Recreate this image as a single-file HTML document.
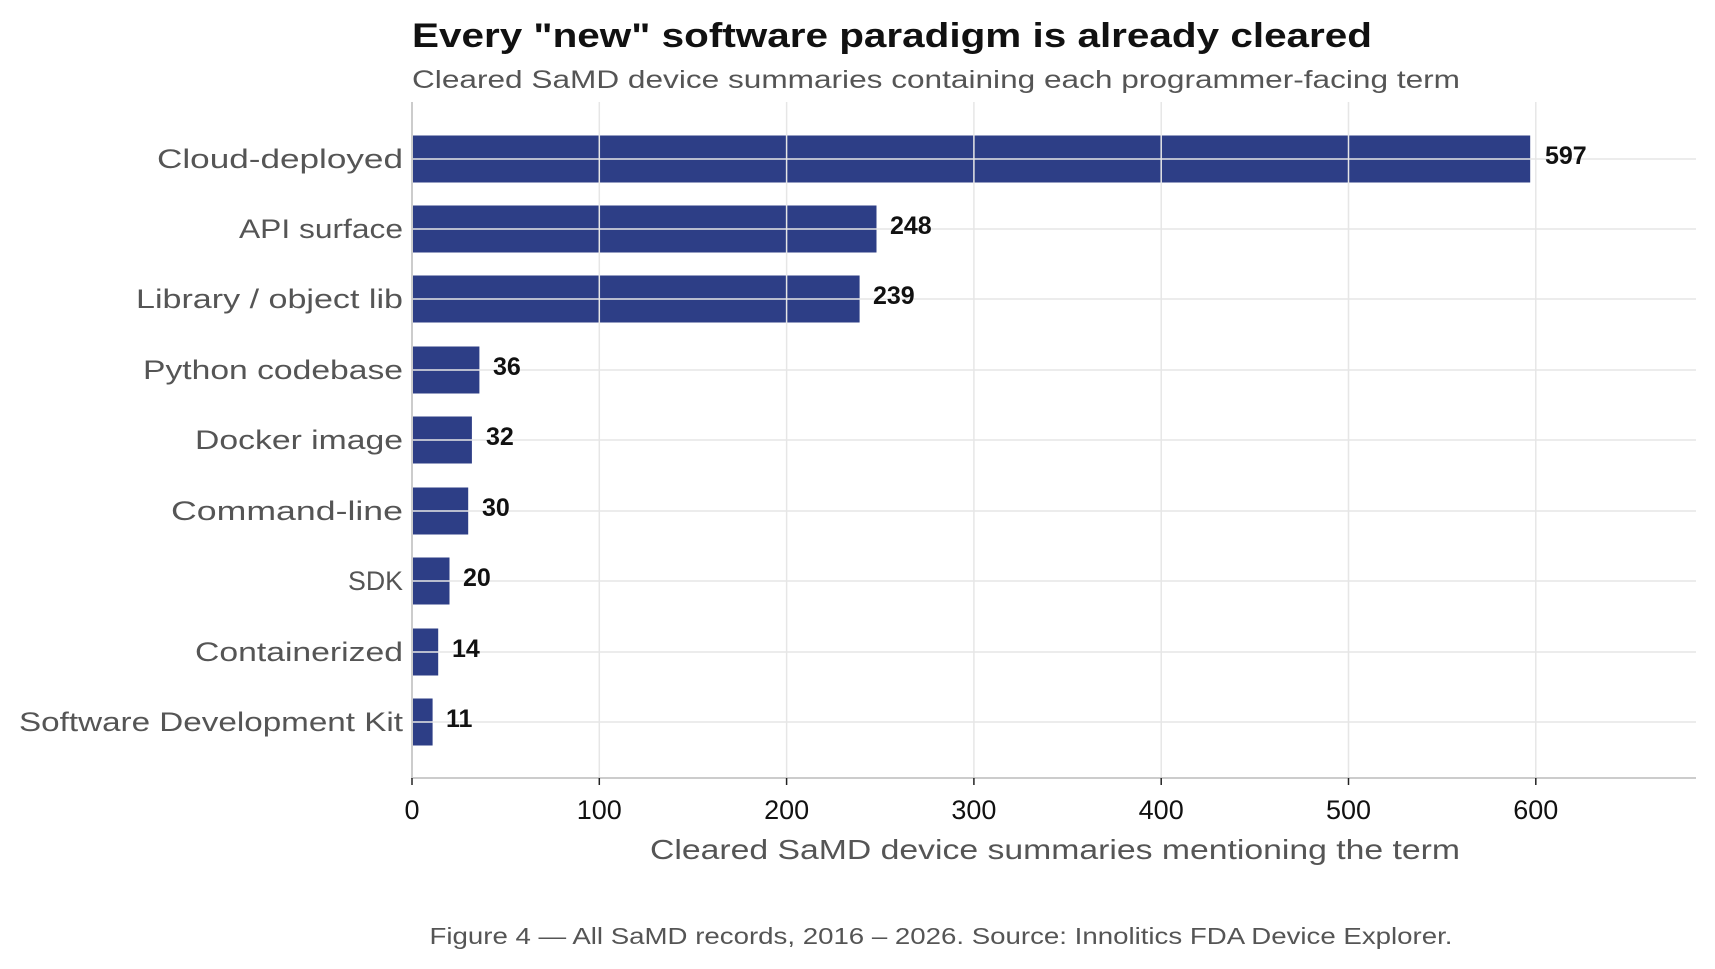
<!DOCTYPE html>
<html><head><meta charset="utf-8"><style>
html,body{margin:0;padding:0;background:#fff;}
svg{display:block;font-family:"Liberation Sans",sans-serif;}
</style></head><body>
<svg width="1715" height="969" viewBox="0 0 1715 969" xmlns="http://www.w3.org/2000/svg">
<rect width="1715" height="969" fill="#fff"/>
<text x="412" y="47" font-size="34" font-weight="bold" fill="#111" textLength="960" lengthAdjust="spacingAndGlyphs">Every "new" software paradigm is already cleared</text>
<text x="412" y="88" font-size="25" fill="#555" textLength="1048" lengthAdjust="spacingAndGlyphs">Cleared SaMD device summaries containing each programmer-facing term</text>
<g fill="#2d3e86">
<rect x="412" y="135.5" width="1118.2" height="47"/>
<rect x="412" y="205.5" width="464.5" height="47"/>
<rect x="412" y="275.5" width="447.6" height="47"/>
<rect x="412" y="346.5" width="67.4" height="47"/>
<rect x="412" y="416.5" width="59.9" height="47"/>
<rect x="412" y="487.5" width="56.2" height="47"/>
<rect x="412" y="557.5" width="37.5" height="47"/>
<rect x="412" y="628.5" width="26.2" height="47"/>
<rect x="412" y="698.5" width="20.6" height="47"/>
</g>
<g stroke="#e6e6e6" stroke-width="1.5">
<line x1="599.3" y1="102" x2="599.3" y2="778"/>
<line x1="786.6" y1="102" x2="786.6" y2="778"/>
<line x1="973.9" y1="102" x2="973.9" y2="778"/>
<line x1="1161.2" y1="102" x2="1161.2" y2="778"/>
<line x1="1348.5" y1="102" x2="1348.5" y2="778"/>
<line x1="1535.8" y1="102" x2="1535.8" y2="778"/>
<line x1="412" y1="159" x2="1696" y2="159"/>
<line x1="412" y1="229" x2="1696" y2="229"/>
<line x1="412" y1="299" x2="1696" y2="299"/>
<line x1="412" y1="370" x2="1696" y2="370"/>
<line x1="412" y1="440" x2="1696" y2="440"/>
<line x1="412" y1="511" x2="1696" y2="511"/>
<line x1="412" y1="581" x2="1696" y2="581"/>
<line x1="412" y1="652" x2="1696" y2="652"/>
<line x1="412" y1="722" x2="1696" y2="722"/>
</g>
<line x1="412" y1="102" x2="412" y2="779" stroke="#ccc" stroke-width="2"/>
<line x1="411" y1="778" x2="1696" y2="778" stroke="#ccc" stroke-width="2"/>
<g stroke="#222" stroke-width="1.5">
<line x1="412" y1="778" x2="412" y2="785"/><line x1="599.3" y1="778" x2="599.3" y2="785"/><line x1="786.6" y1="778" x2="786.6" y2="785"/><line x1="973.9" y1="778" x2="973.9" y2="785"/><line x1="1161.2" y1="778" x2="1161.2" y2="785"/><line x1="1348.5" y1="778" x2="1348.5" y2="785"/><line x1="1535.8" y1="778" x2="1535.8" y2="785"/>
</g>
<g font-size="27" fill="#555" text-anchor="end" lengthAdjust="spacingAndGlyphs">
<text x="403" y="168" textLength="246" lengthAdjust="spacingAndGlyphs">Cloud-deployed</text>
<text x="403" y="238" textLength="164" lengthAdjust="spacingAndGlyphs">API surface</text>
<text x="403" y="308" textLength="267" lengthAdjust="spacingAndGlyphs">Library / object lib</text>
<text x="403" y="379" textLength="260" lengthAdjust="spacingAndGlyphs">Python codebase</text>
<text x="403" y="449" textLength="208" lengthAdjust="spacingAndGlyphs">Docker image</text>
<text x="403" y="520" textLength="232" lengthAdjust="spacingAndGlyphs">Command-line</text>
<text x="403" y="590" textLength="55" lengthAdjust="spacingAndGlyphs">SDK</text>
<text x="403" y="661" textLength="208" lengthAdjust="spacingAndGlyphs">Containerized</text>
<text x="403" y="731" textLength="384" lengthAdjust="spacingAndGlyphs">Software Development Kit</text>
</g>
<g font-size="25" font-weight="bold" fill="#111">
<text x="1545" y="164">597</text>
<text x="890" y="234">248</text>
<text x="873" y="304">239</text>
<text x="493" y="375">36</text>
<text x="486" y="445">32</text>
<text x="482" y="516">30</text>
<text x="463" y="586">20</text>
<text x="452" y="657">14</text>
<text x="446" y="727">11</text>
</g>
<g font-size="27" fill="#111" text-anchor="middle">
<text x="412" y="819">0</text><text x="599.3" y="819">100</text><text x="786.6" y="819">200</text><text x="973.9" y="819">300</text><text x="1161.2" y="819">400</text><text x="1348.5" y="819">500</text><text x="1535.8" y="819">600</text>
</g>
<text x="1055" y="859" font-size="28" fill="#555" text-anchor="middle" textLength="810" lengthAdjust="spacingAndGlyphs">Cleared SaMD device summaries mentioning the term</text>
<text x="941" y="944" font-size="23" fill="#555" text-anchor="middle" textLength="1023" lengthAdjust="spacingAndGlyphs">Figure 4 — All SaMD records, 2016 – 2026. Source: Innolitics FDA Device Explorer.</text>
</svg>
</body></html>
